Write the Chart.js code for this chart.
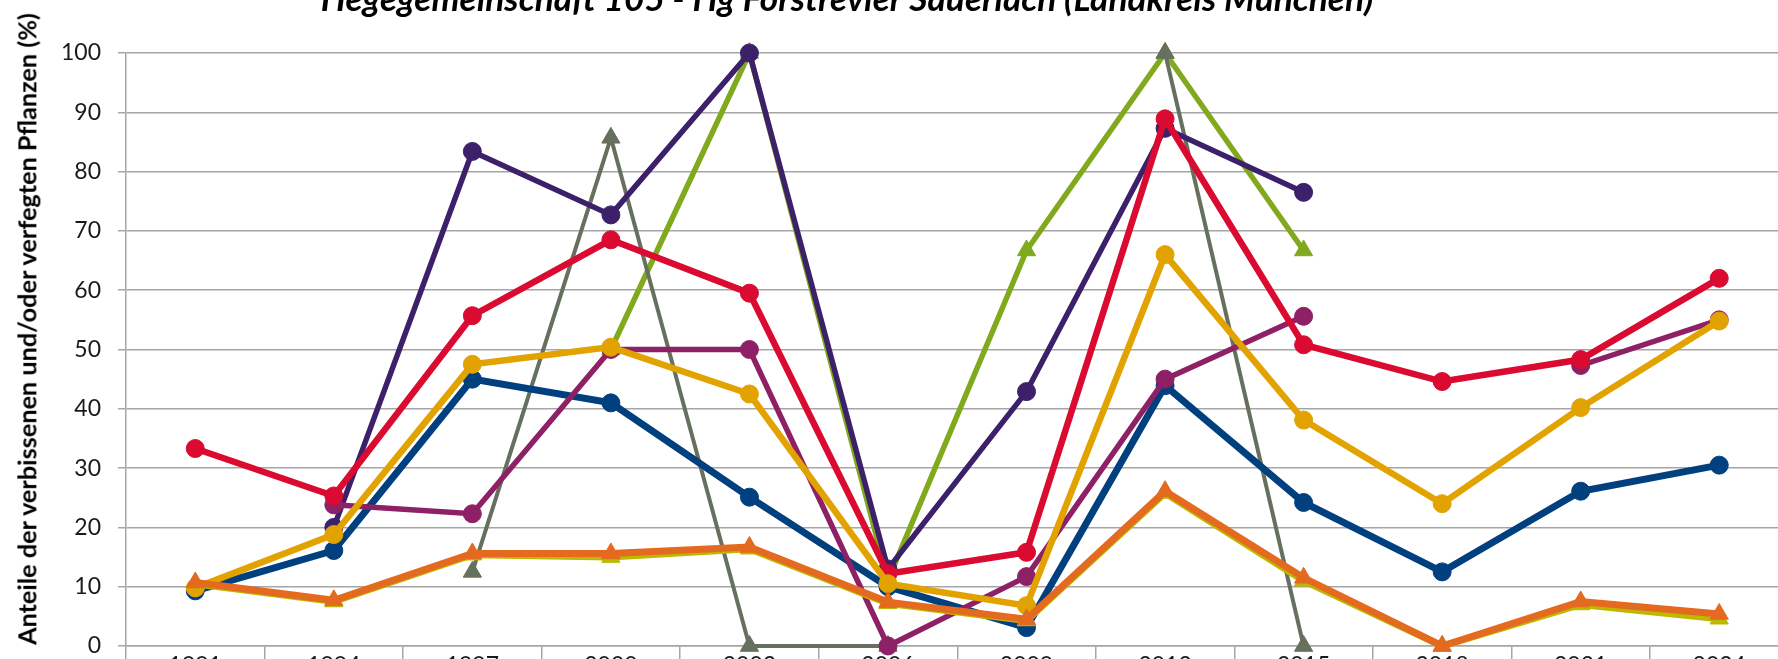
<!DOCTYPE html>
<html lang="de">
<head>
<meta charset="utf-8">
<title>Hegegemeinschaft 105 - Verbiss</title>
<script src="https://cdn.jsdelivr.net/npm/chart.js@4/dist/chart.umd.min.js"></script>
<style>
  html, body { margin: 0; padding: 0; background: #fff; overflow: hidden; width: 1778px; height: 659px; }
  #wrap { position: absolute; left: 0; top: 0; width: 1800px; height: 720px; }
  #title { position: absolute; white-space: nowrap; font-family: Lato, "Open Sans", sans-serif;
           font-weight: bold; font-style: italic; line-height: 1; color: #000; }
  #ytitle { position: absolute; white-space: nowrap; font-family: Lato, "Open Sans", sans-serif;
            font-weight: bold; line-height: 1; color: #000; transform: translate(-50%, -50%) rotate(-90deg); }
</style>
</head>
<body>
<div id="wrap"><canvas id="myChart" width="1800" height="720"></canvas></div>
<div id="title">Hegegemeinschaft 105 - Hg Forstrevier Sauerlach (Landkreis München)</div>
<div id="ytitle">Anteile der verbissenen und/oder verfegten Pflanzen (%)</div>
<script>
const jahre = ['1991', '1994', '1997', '2000', '2003', '2006', '2009', '2012', '2015', '2018', '2021', '2024'];
const yTicks = [0, 10, 20, 30, 40, 50, 60, 70, 80, 90, 100];

// Werte in % (null = keine Aufnahme)
const dunkelblau = [9.3, 16.1, 45.0, 41.0, 25.1, 10.0, 3.1, 43.9, 24.2, 12.5, 26.1, 30.5];
const violett = [null, 20.0, 83.4, 72.7, 100, 13.0, 42.9, 87.3, 76.5, null, null, null];
const rot = [33.3, 25.3, 55.7, 68.5, 59.5, 12.2, 15.8, 88.9, 50.8, 44.6, 48.3, 62.0];
const pflaume = [null, 23.8, 22.3, 50.0, 50.0, 0, 11.7, 45.0, 55.6, null, 47.3, 55.0];
const gold = [9.8, 18.8, 47.5, 50.4, 42.5, 10.5, 6.8, 66.0, 38.1, 24.0, 40.2, 54.8];
const gruen = [null, null, null, 50.0, 100, 11.1, 66.7, 100, 66.7, null, null, null];
const grau = [null, null, 12.5, 85.7, 0, 0, null, 100, 0, null, null, null];
const gelboliv = [10.5, 7.5, 15.4, 15.0, 16.4, 7.2, 4.3, 25.8, 11.0, 0, 7.0, 4.6];
const orange = [10.7, 7.7, 15.6, 15.6, 16.7, 7.4, 4.5, 26.1, 11.5, 0, 7.5, 5.4];

const fontName = 'Lato, "Open Sans", sans-serif';
const gridColor = '#a6a6a6';

function kreis(label, data, color, width) {
    return { label, data, borderColor: color, backgroundColor: color, borderWidth: width,
             pointStyle: 'circle', pointRadius: 9, pointBorderWidth: 1, clip: false, tension: 0 };
}
function dreieck(label, data, color, width) {
    return { label, data, borderColor: color, backgroundColor: color, borderWidth: width,
             pointStyle: 'triangle', pointRadius: 10.5, pointBorderWidth: 1, clip: false, tension: 0 };
}

// erste Datenreihe liegt oben
const datasets = [
    dreieck('Reihe 9', orange, '#e46a1f', 7),
    dreieck('Reihe 8', gelboliv, '#bdb800', 7),
    kreis('Reihe 7', gold, '#e2a300', 6.5),
    kreis('Reihe 6', rot, '#da0a31', 6.5),
    kreis('Reihe 5', pflaume, '#8e2066', 5.5),
    kreis('Reihe 4', violett, '#3c206a', 5.5),
    kreis('Reihe 1', dunkelblau, '#00407f', 7),
    dreieck('Reihe 3', grau, '#66705e', 4),
    dreieck('Reihe 2', gruen, '#80a91e', 5.5)
];

const ctx = document.getElementById('myChart');
const myChart = new Chart(ctx, {
    type: 'line',
    data: { labels: jahre, datasets },
    options: {
        responsive: false,
        animation: false,
        layout: { padding: { top: 53, right: 8, left: 0, bottom: 0 } },
        plugins: { legend: { display: false }, tooltip: { enabled: false } },
        scales: {
            x: {
                offset: true,
                afterFit: s => { s.height = 74; },
                grid: { offset: true, drawOnChartArea: false, drawTicks: true, tickLength: 14, color: gridColor, lineWidth: 1.5 },
                border: { color: gridColor, width: 1.5 },
                ticks: { color: '#1a1a1a', padding: -6, font: { family: fontName, size: 23, lineHeight: 1 } }
            },
            y: {
                min: 0,
                max: 100,
                afterFit: s => { s.width = 126; },
                afterBuildTicks: s => { s.ticks = yTicks.map(v => ({ value: v })); },
                grid: { color: gridColor, lineWidth: 1.5, tickLength: 8 },
                border: { color: gridColor, width: 1.5 },
                ticks: { color: '#1a1a1a', padding: 17, font: { family: fontName, size: 23 } }
            }
        }
    }
});

// Titel an die Breite im Original anpassen
function fit(el, w, base) {
    el.style.fontSize = base + 'px';
    const r = el.getBoundingClientRect();
    const len = Math.max(r.width, r.height);
    const size = base * w / len;
    el.style.fontSize = size + 'px';
    return size;
}
const t = document.getElementById('title');
const ts = fit(t, 1053, 26);
t.style.left = (847 - t.getBoundingClientRect().width / 2) + 'px';
t.style.top = (12 - 0.9 * ts) + 'px';

const yt = document.getElementById('ytitle');
fit(yt, 632, 20);
yt.style.left = '27px';
yt.style.top = '329px';
</script>
</body>
</html>
